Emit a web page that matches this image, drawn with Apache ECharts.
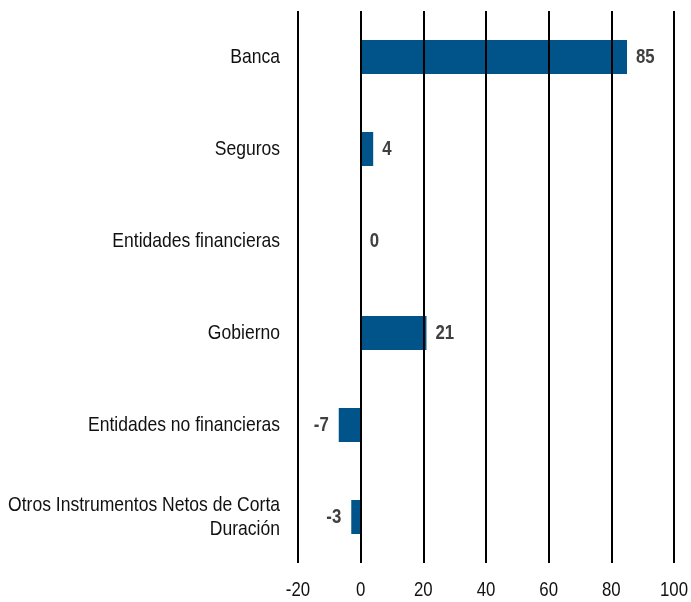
<!DOCTYPE html>
<html><head><meta charset="utf-8">
<script src="https://cdn.jsdelivr.net/npm/echarts@6/dist/echarts.min.js"></script>
<style>html,body{margin:0;padding:0;background:#fff}#c{width:691px;height:602px}</style>
</head><body><div id="c"></div>
<script>
const categories = ['Banca','Seguros','Entidades financieras','Gobierno','Entidades no financieras','Otros Instrumentos Netos de Corta\nDuración'];
const values = [85, 4, 0, 21, -7, -3];
const tickValues = [-20, 0, 20, 40, 60, 80, 100];
const xMin = -20, xMax = 100, xStep = 20;
const FONT = "'Liberation Sans',Arial,sans-serif";
const FS = 21;
const lastIdx = categories.length - 1;

function textEl(x, y, text, align, sx, opts) {
  return {
    type: 'text', x: x, y: y, scaleX: sx, scaleY: 1,
    style: Object.assign({
      text: text, fill: '#111', fontSize: FS, fontFamily: FONT,
      align: align, verticalAlign: 'middle'
    }, opts || {})
  };
}

const chart = echarts.init(document.getElementById('c'));
chart.setOption({
  animation: false,
  grid: {left: 298, right: 17, top: 11, bottom: 39, containLabel: false},
  xAxis: {
    type: 'value', min: xMin, max: xMax, interval: xStep, z: 5,
    axisLine: {show: false}, axisTick: {show: false},
    splitLine: {show: true, lineStyle: {color: '#000', width: 2}},
    axisLabel: {show: false}
  },
  yAxis: {
    type: 'category', data: categories, inverse: true,
    axisLine: {show: false}, axisTick: {show: false}, splitLine: {show: false},
    axisLabel: {show: false}
  },
  series: [
    {
      type: 'bar', barWidth: 34, z: 2,
      itemStyle: {color: '#00548A'},
      data: values
    },
    {
      type: 'custom', clip: false, z: 10, silent: true,
      data: categories.map((c, i) => [xMin, i]),
      renderItem: function (params, api) {
        const p = api.coord([api.value(0), api.value(1)]);
        return textEl(p[0] - 18, p[1], categories[params.dataIndex], 'right', 0.835, {lineHeight: 24, fill: '#111'});
      }
    },
    {
      type: 'custom', clip: false, z: 10, silent: true,
      data: values.map((v, i) => [v, i]),
      renderItem: function (params, api) {
        const v = api.value(0);
        const p = api.coord([v, api.value(1)]);
        const neg = v < 0;
        return textEl(p[0] + (neg ? -10 : 9), p[1], String(v), neg ? 'right' : 'left', 0.8,
          {fill: '#404040', fontWeight: 'bold'});
      }
    },
    {
      type: 'custom', clip: false, z: 10, silent: true,
      data: tickValues.map(t => [t, lastIdx]),
      renderItem: function (params, api) {
        const p = api.coord([api.value(0), api.value(1)]);
        const half = api.size([0, 1])[1] / 2;
        return textEl(p[0], p[1] + half + 27, String(tickValues[params.dataIndex]), 'center', 0.8, {fill: '#111'});
      }
    }
  ]
});
</script></body></html>
